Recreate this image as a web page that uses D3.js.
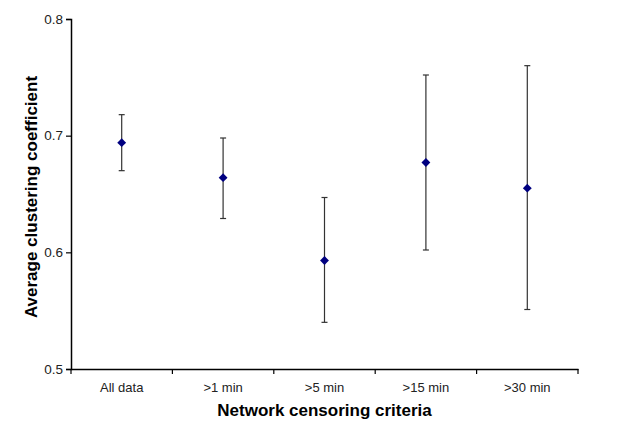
<!DOCTYPE html>
<html>
<head>
<meta charset="utf-8">
<script src="https://cdn.jsdelivr.net/npm/d3@7"></script>
<style>
  body { margin: 0; background: #fff; }
  svg { display: block; font-family: "Liberation Sans", Arial, sans-serif; }
</style>
</head>
<body>
<svg width="643" height="425"></svg>
<script>
'use strict'

// data
const categories = ['All data', '>1 min', '>5 min', '>15 min', '>30 min'];
const means = [0.694, 0.664, 0.593, 0.677, 0.655];
const upper = [0.718, 0.698, 0.647, 0.752, 0.760];
const lower = [0.670, 0.629, 0.540, 0.602, 0.551];
const yTicks = [0.5, 0.6, 0.7, 0.8];

const svg = d3.select('svg');
const margin = { left: 71, right: 65, top: 19, bottom: 56 };
const width = 643 - margin.left - margin.right;
const height = 425 - margin.top - margin.bottom;

const g = svg.append('g')
  .attr('transform', `translate(${margin.left},${margin.top})`);

const x = d3.scaleBand().domain(categories).range([0, width]);
const y = d3.scaleLinear().domain([0.5, 0.8]).range([height, 0]);

const rows = categories.map((c, i) => ({ c, m: means[i], hi: upper[i], lo: lower[i] }));

// y axis
const yAxis = g.append('g')
  .call(d3.axisLeft(y).tickValues(yTicks).tickFormat(d3.format('.1f')).tickSize(5).tickPadding(3));
yAxis.select('.domain').attr('stroke', '#000').attr('stroke-width', 1.5);
yAxis.selectAll('.tick line').attr('stroke', '#000').attr('stroke-width', 1.2);
yAxis.selectAll('.tick text').attr('font-size', 13.5).attr('fill', '#222');

// x axis: ticks at band edges
const xAxis = g.append('g')
  .attr('transform', `translate(0,${height})`)
  .call(d3.axisBottom(x).tickSize(0).tickPadding(14));
xAxis.select('.domain').attr('stroke', '#000').attr('stroke-width', 1.5);
xAxis.selectAll('.tick text').attr('font-size', 13).attr('fill', '#222');
g.append('g')
  .selectAll('line')
  .data(categories.map(c => x(c)).concat([width]))
  .join('line')
  .attr('x1', d => d).attr('x2', d => d)
  .attr('y1', height).attr('y2', height + 5)
  .attr('stroke', '#000').attr('stroke-width', 1.2);

// error bars
const bars = g.append('g').selectAll('g')
  .data(rows)
  .join('g')
  .attr('transform', d => `translate(${x(d.c) + x.bandwidth() / 2},0)`)
  .attr('stroke', '#333')
  .attr('stroke-width', 1.2);
bars.append('line')
  .attr('y1', d => y(d.hi)).attr('y2', d => y(d.lo));
bars.append('line')
  .attr('x1', -3).attr('x2', 3)
  .attr('y1', d => y(d.hi)).attr('y2', d => y(d.hi));
bars.append('line')
  .attr('x1', -3).attr('x2', 3)
  .attr('y1', d => y(d.lo)).attr('y2', d => y(d.lo));

// diamond markers
g.append('g').selectAll('path')
  .data(rows)
  .join('path')
  .attr('d', d3.symbol(d3.symbolDiamond2, 50))
  .attr('transform', d => `translate(${x(d.c) + x.bandwidth() / 2},${y(d.m)})`)
  .attr('fill', '#000080');

// axis titles
svg.append('text')
  .attr('transform', `translate(37,197) rotate(-90)`)
  .attr('text-anchor', 'middle')
  .attr('font-size', 17)
  .attr('font-weight', 'bold')
  .text('Average clustering coefficient');

svg.append('text')
  .attr('x', margin.left + width / 2)
  .attr('y', 416)
  .attr('text-anchor', 'middle')
  .attr('font-size', 17)
  .attr('font-weight', 'bold')
  .text('Network censoring criteria');
</script>
</body>
</html>
